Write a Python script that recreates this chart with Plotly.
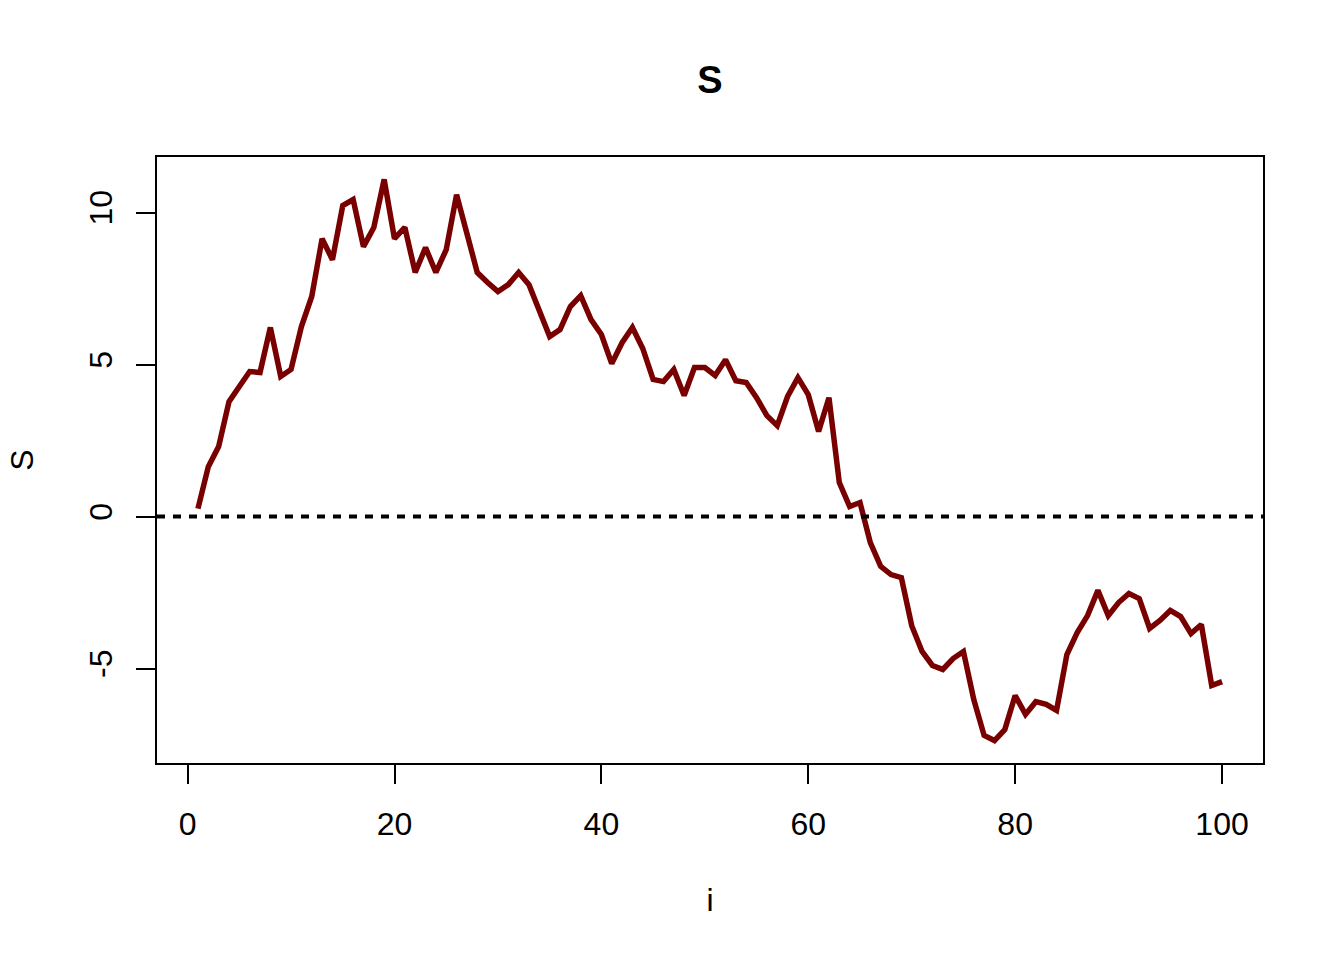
import plotly.graph_objects as go

i_vals = list(range(1, 101))
S_vals = [0.26, 1.64, 2.30, 3.78, 4.28, 4.77, 4.74, 6.22, 4.61, 4.84,
          6.25, 7.24, 9.14, 8.45, 10.23, 10.43, 8.88, 9.51, 11.09, 9.14,
          9.51, 8.03, 8.85, 8.03, 8.78, 10.59, 9.31, 8.03, 7.70, 7.40,
          7.63, 8.03, 7.63, 6.81, 5.92, 6.15, 6.91, 7.27, 6.48, 5.99,
          5.03, 5.72, 6.22, 5.53, 4.51, 4.44, 4.84, 3.98, 4.90, 4.90,
          4.64, 5.16, 4.47, 4.41, 3.91, 3.32, 2.99, 3.95, 4.57, 4.01,
          2.80, 3.91, 1.12, 0.33, 0.46, -0.86, -1.64, -1.91, -2.01, -3.59,
          -4.44, -4.90, -5.03, -4.67, -4.44, -6.02, -7.20, -7.37, -7.01, -5.89,
          -6.51, -6.09, -6.18, -6.38, -4.54, -3.82, -3.26, -2.43, -3.26, -2.83,
          -2.53, -2.70, -3.68, -3.42, -3.09, -3.29, -3.85, -3.55, -5.56, -5.43]
x_ticks = [0, 20, 40, 60, 80, 100]
y_ticks = [-5, 0, 5, 10]

FONT = "Liberation Sans, Arial, Helvetica, sans-serif"

fig = go.Figure()
fig.add_trace(go.Scatter(x=i_vals, y=S_vals, mode="lines",
                         line=dict(color="#780000", width=5.5),
                         showlegend=False, hoverinfo="skip"))
fig.add_shape(type="line", xref="paper", yref="y", x0=0, x1=1, y0=0, y1=0,
              line=dict(color="black", width=4, dash="8px,8px"))

xmin, xmax = min(i_vals), max(i_vals)
dx = (xmax - xmin) * 0.04
ymin, ymax = min(S_vals), max(S_vals)
dy = (ymax - ymin) * 0.04

fig.update_layout(
    width=1344, height=960,
    margin=dict(l=157, r=81, t=157, b=197),
    paper_bgcolor="white", plot_bgcolor="white",
    font=dict(family=FONT, size=32, color="black"),
    title=dict(text="<b>S</b>", x=(157 + 1263) / 2 / 1344, xanchor="center",
               y=1 - 80 / 960, yanchor="middle", yref="container",
               font=dict(size=38, family=FONT, color="black")),
    xaxis=dict(range=[xmin - dx, xmax + dx], tickvals=x_ticks,
               ticks="outside", ticklen=19, tickwidth=2, tickcolor="black",
               showline=True, linewidth=2, linecolor="black", mirror=True,
               showgrid=False, zeroline=False, ticklabelstandoff=13,
               automargin=False,
               title=dict(text="i", standoff=47, font=dict(size=32))),
    yaxis=dict(range=[ymin - dy, ymax + dy], tickvals=y_ticks,
               ticktext=[str(v) if v >= 0 else "-" + str(-v) for v in y_ticks],
               ticks="outside", ticklen=19, tickwidth=2, tickcolor="black",
               showline=True, linewidth=2, linecolor="black", mirror=True,
               showgrid=False, zeroline=False, tickangle=-90,
               ticklabelstandoff=11, automargin=False,
               title=dict(text="S", standoff=40, font=dict(size=32))),
)

fig.write_html("out.html", config={"displayModeBar": False},
               post_script="document.body.style.margin='0';document.body.style.padding='0';")
